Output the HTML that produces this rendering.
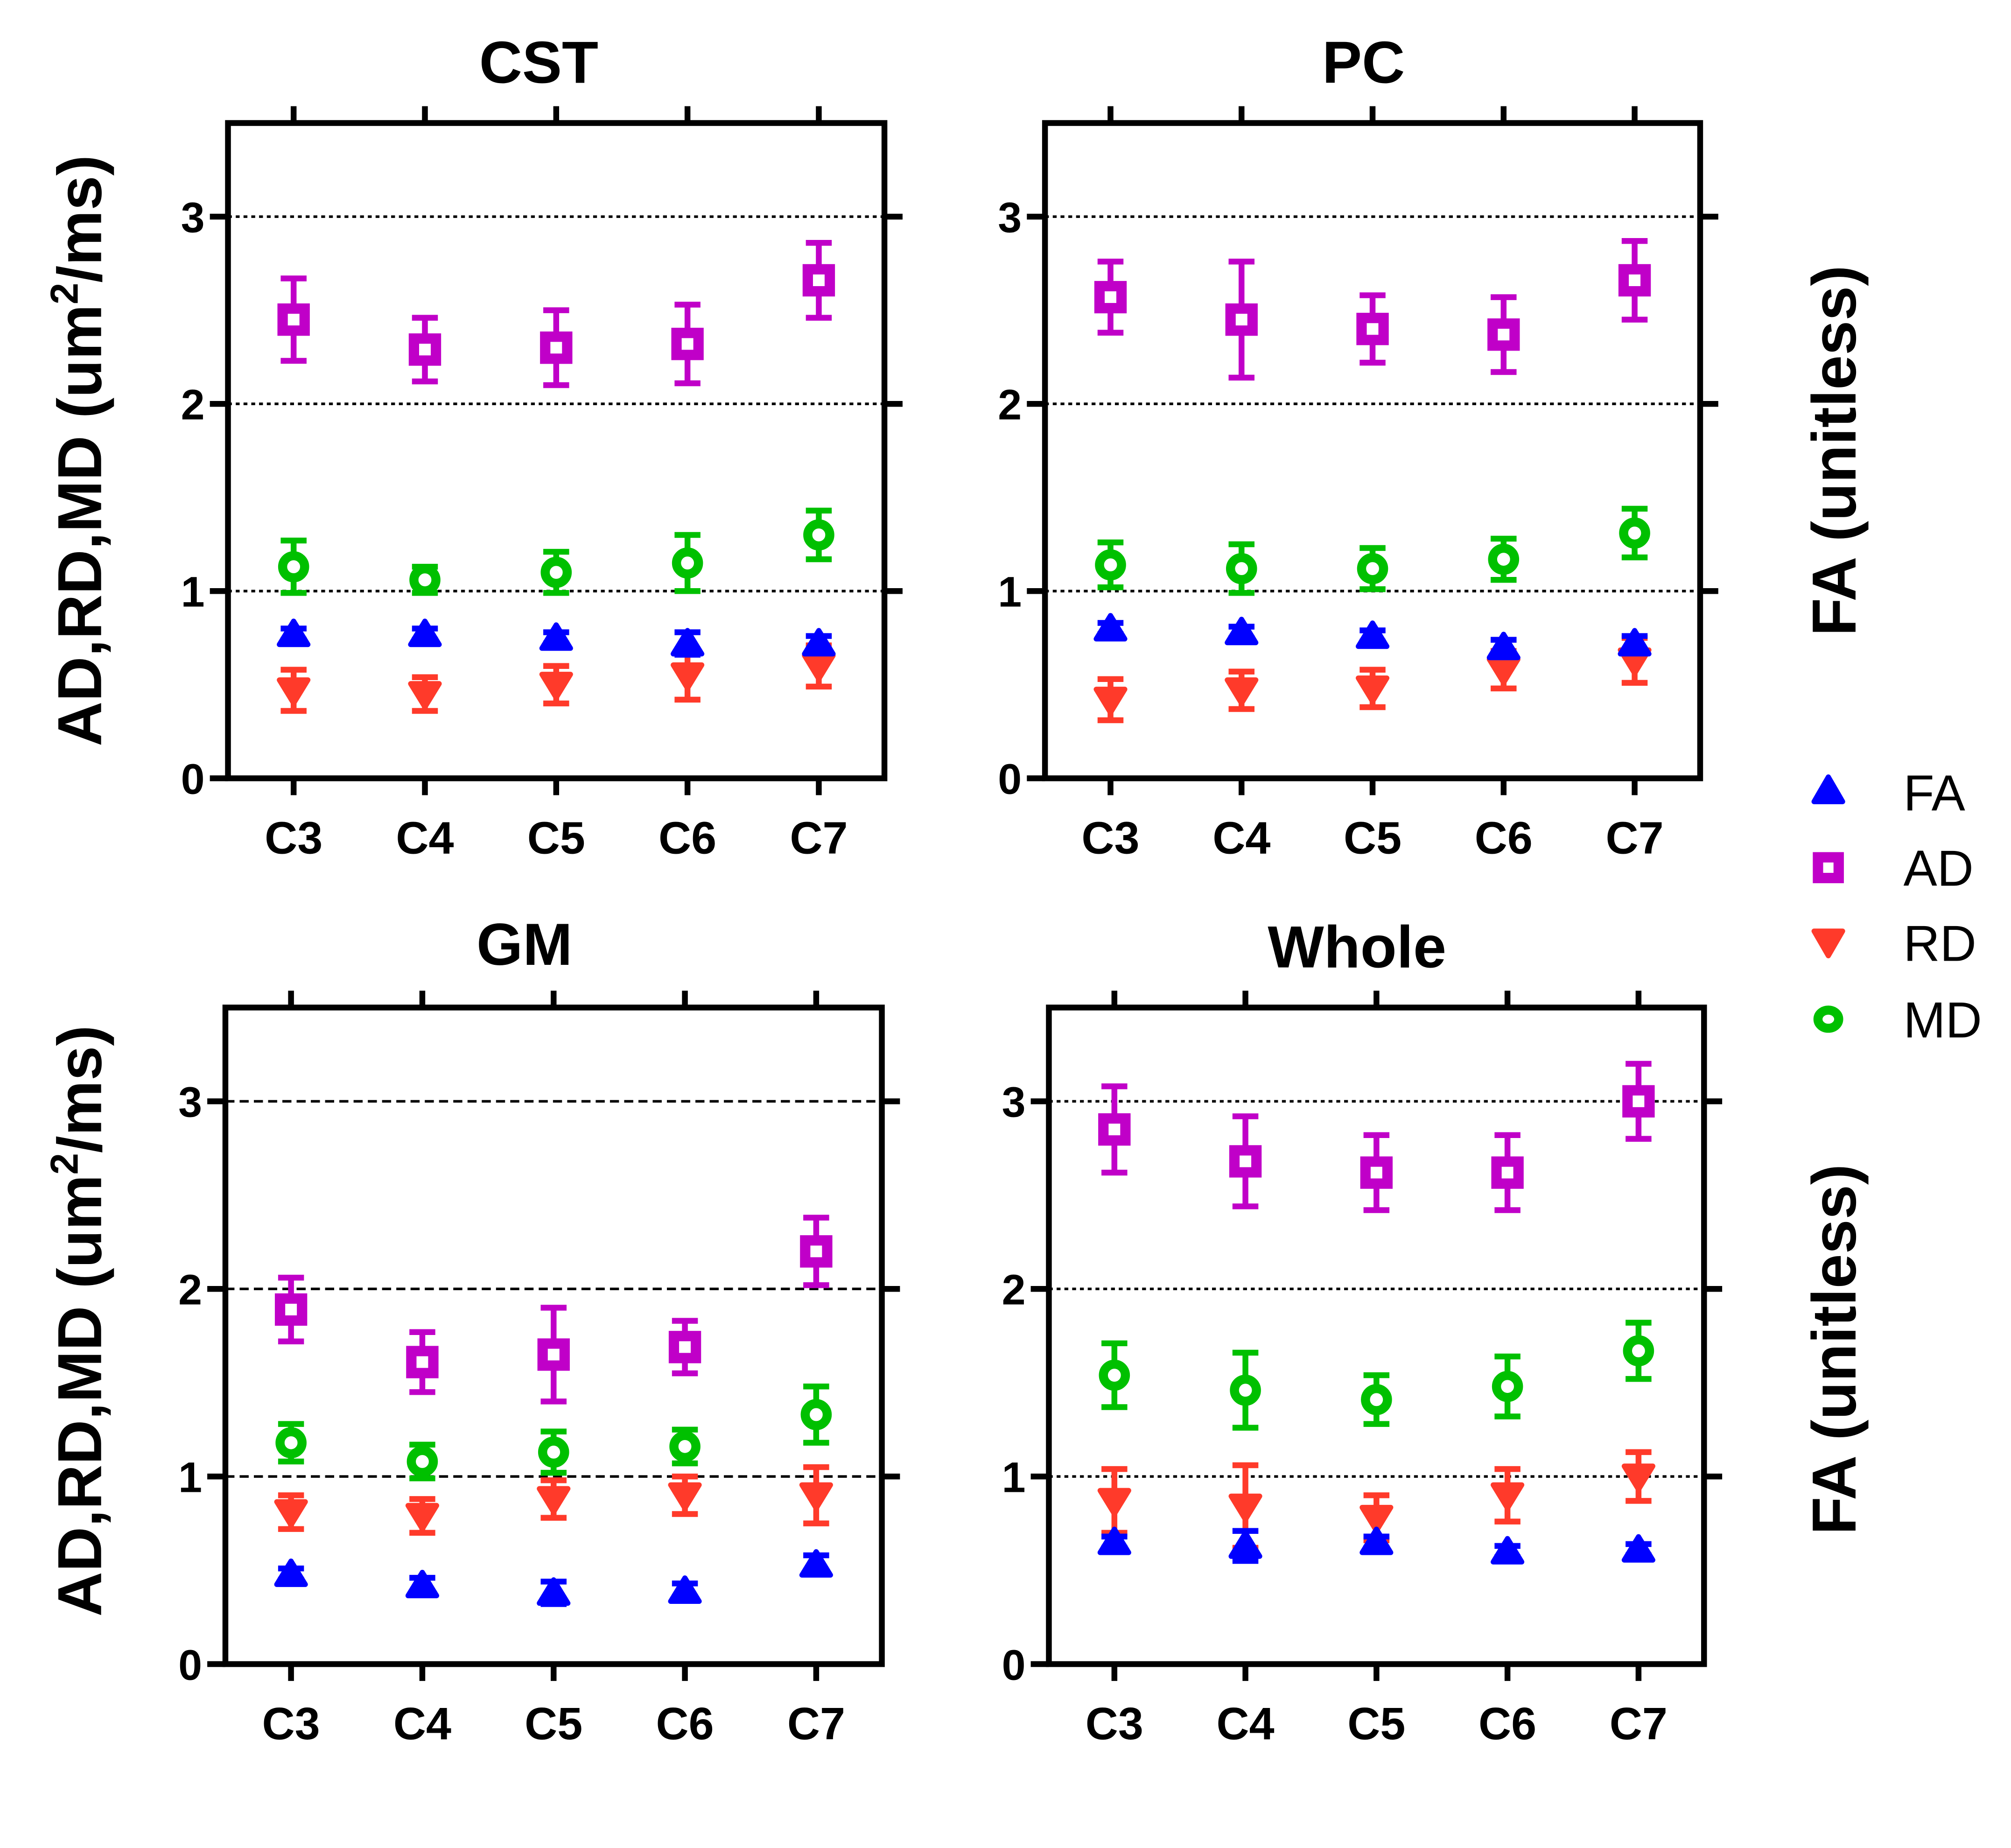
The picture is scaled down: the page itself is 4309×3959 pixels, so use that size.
<!DOCTYPE html>
<html><head><meta charset="utf-8"><style>
html,body{margin:0;padding:0;background:#fff;}
svg{display:block;}
text{font-family:"Liberation Sans",Arial,sans-serif;}
</style></head><body>
<svg id="chart" xmlns="http://www.w3.org/2000/svg" width="4309" height="3959" viewBox="0 0 1553 1427">
<rect width="1553" height="1427" fill="#fff"/>
<g>
  <polygon points="1412,600 1423,619 1401,619" fill="#0000ff" stroke="#0000ff" stroke-width="4" stroke-linejoin="round"/>
  <text x="1470" y="626" font-size="39">FA</text>
  <rect x="1404" y="662" width="16" height="16" fill="none" stroke="#c000c8" stroke-width="8"/>
  <text x="1470" y="684" font-size="39">AD</text>
  <polygon points="1401,719 1423,719 1412,738" fill="#ff3a2a" stroke="#ff3a2a" stroke-width="4" stroke-linejoin="round"/>
  <text x="1470" y="742" font-size="39">RD</text>
  <ellipse cx="1412" cy="787" rx="8" ry="7" fill="none" stroke="#00c000" stroke-width="7"/>
  <text x="1470" y="801" font-size="39">MD</text>
</g>
</svg>
<script>
const categories = ["C3","C4","C5","C6","C7"];
const yTicks = [0,1,2,3];
const panelTitles = ["CST","PC","GM","Whole"];
// values and errors per panel: [CST, PC, GM, Whole]
const adValues = [[2.45,2.29,2.30,2.32,2.66],[2.57,2.45,2.40,2.37,2.66],[1.89,1.61,1.65,1.69,2.20],[2.85,2.68,2.62,2.62,3.00]];
const adErrors = [[0.22,0.17,0.20,0.21,0.20],[0.19,0.31,0.18,0.20,0.21],[0.17,0.16,0.25,0.14,0.18],[0.23,0.24,0.20,0.20,0.20]];
const mdValues = [[1.13,1.06,1.10,1.15,1.30],[1.14,1.12,1.12,1.17,1.31],[1.18,1.08,1.13,1.16,1.33],[1.54,1.46,1.41,1.48,1.67]];
const mdErrors = [[0.14,0.07,0.11,0.15,0.13],[0.12,0.13,0.11,0.11,0.13],[0.10,0.09,0.11,0.09,0.15],[0.17,0.20,0.13,0.16,0.15]];
const faValues = [[0.77,0.77,0.75,0.72,0.72],[0.80,0.78,0.76,0.70,0.72],[0.48,0.42,0.38,0.39,0.53],[0.65,0.63,0.65,0.60,0.61]];
const faErrors = [[0.03,0.03,0.03,0.06,0.04],[0.03,0.03,0.03,0.04,0.04],[0.03,0.04,0.06,0.04,0.05],[0.03,0.08,0.03,0.03,0.03]];
const rdValues = [[0.47,0.45,0.50,0.55,0.60],[0.42,0.47,0.48,0.58,0.63],[0.81,0.79,0.88,0.90,0.90],[0.87,0.84,0.78,0.90,1.00]];
const rdErrors = [[0.11,0.09,0.10,0.13,0.11],[0.11,0.10,0.10,0.10,0.12],[0.09,0.09,0.10,0.10,0.15],[0.17,0.22,0.12,0.14,0.13]];

const NS="http://www.w3.org/2000/svg";
const svg=document.getElementById('chart');
function mk(tag,attrs,parent){const e=document.createElementNS(NS,tag);for(const k in attrs)e.setAttribute(k,attrs[k]);(parent||svg).appendChild(e);return e;}
const panels=[{l:176,r:683,t:95,b:601,tx:416,ty:64},{l:807,r:1313,t:95,b:601,tx:1053,ty:64},{l:174,r:681,t:778,b:1285,tx:405,ty:745},{l:810,r:1316,t:778,b:1285,tx:1048,ty:747}];
const colors={fa:"#0000ff",ad:"#c000c8",rd:"#ff3a2a",md:"#00c000"};
panels.forEach((p,pi)=>{
  const g=mk('g',{});
  
  
  const yS=v=>p.b-(p.b-p.t)*v/3.5;
  const slot=(p.r-p.l)/categories.length;
  const xS=i=>p.l+slot*(i+0.5);
  const title=mk('text',{x:p.tx,y:p.ty,'font-size':46,'font-weight':'bold','text-anchor':'middle'},g);
  title.textContent=panelTitles[pi];
  
  
  [1,2,3].forEach(v=>{
    const gl=mk('line',{x1:p.l,x2:p.r,y1:yS(v),y2:yS(v),stroke:'#000','stroke-width':2,'stroke-dasharray':pi==2?'7,4':'3,3'},g);
    
    
    mk('line',{x1:p.r,x2:p.r+14,y1:yS(v),y2:yS(v),stroke:'#000','stroke-width':4.5},g);
  });
  const box=mk('rect',{x:p.l,y:p.t,width:p.r-p.l,height:p.b-p.t,fill:'none',stroke:'#000','stroke-width':4.5},g);
  
  
  yTicks.forEach(v=>{
    mk('line',{x1:p.l-14,x2:p.l,y1:yS(v),y2:yS(v),stroke:'#000','stroke-width':4.5},g);
    const t=mk('text',{x:p.l-18,y:yS(v)+12,'font-size':33,'font-weight':'bold','text-anchor':'end'},g);
    t.textContent=v;
    
    
  });
  categories.forEach((c,i)=>{
    mk('line',{x1:xS(i),x2:xS(i),y1:p.b,y2:p.b+13,stroke:'#000','stroke-width':4.5},g);
    mk('line',{x1:xS(i),x2:xS(i),y1:p.t-13,y2:p.t,stroke:'#000','stroke-width':4.5},g);
    const t=mk('text',{x:xS(i),y:p.b+58,'font-size':35,'font-weight':'bold','text-anchor':'middle'},g);
    t.textContent=c;
    
    
  });
  const series=[['rd',rdValues,rdErrors],['fa',faValues,faErrors],['md',mdValues,mdErrors],['ad',adValues,adErrors]];
  series.forEach(([key,vals,errs])=>{
    const col=colors[key];
    vals[pi].forEach((v,i)=>{
      const x=xS(i),y=yS(v),e=errs[pi][i];
      const eb=mk('path',{d:`M${x},${yS(v-e)}V${yS(v+e)}M${x-10},${yS(v-e)}H${x+10}M${x-10},${yS(v+e)}H${x+10}`,stroke:col,'stroke-width':4.5,fill:'none'},g);
      
      
      let m;
      if(key=='fa') m=mk('polygon',{points:`${x},${y-10} ${x+11},${y+8} ${x-11},${y+8}`,fill:col,stroke:col,'stroke-width':4,'stroke-linejoin':'round'},g);
      else if(key=='rd') m=mk('polygon',{points:`${x-11},${y-8} ${x+11},${y-8} ${x},${y+10}`,fill:col,stroke:col,'stroke-width':4,'stroke-linejoin':'round'},g);
      else if(key=='ad') m=mk('rect',{x:x-8.5,y:y-8.5,width:17,height:17,fill:'#fff',stroke:col,'stroke-width':8},g);
      else m=mk('ellipse',{cx:x,cy:y,rx:8.5,ry:8.5,fill:'#fff',stroke:col,'stroke-width':7},g);
      
      
    });
  });
});
[[62,348],[62,1020]].forEach(([x,y])=>{
  const t=mk('text',{x:x,y:y,'font-size':48,'font-weight':'bold','text-anchor':'middle',transform:`rotate(-90 ${x} ${y})`,dy:16});
  t.innerHTML='AD,RD,MD (um<tspan font-size="30" dy="-18">2</tspan><tspan dy="18">/ms)</tspan>';
  
  
});
[[1417,348],[1417,1042]].forEach(([x,y])=>{
  const t=mk('text',{x:x,y:y,'font-size':48,'font-weight':'bold','text-anchor':'middle',transform:`rotate(-90 ${x} ${y})`,dy:16});
  t.textContent='FA (unitless)';
  
  
});
</script>
</body></html>
